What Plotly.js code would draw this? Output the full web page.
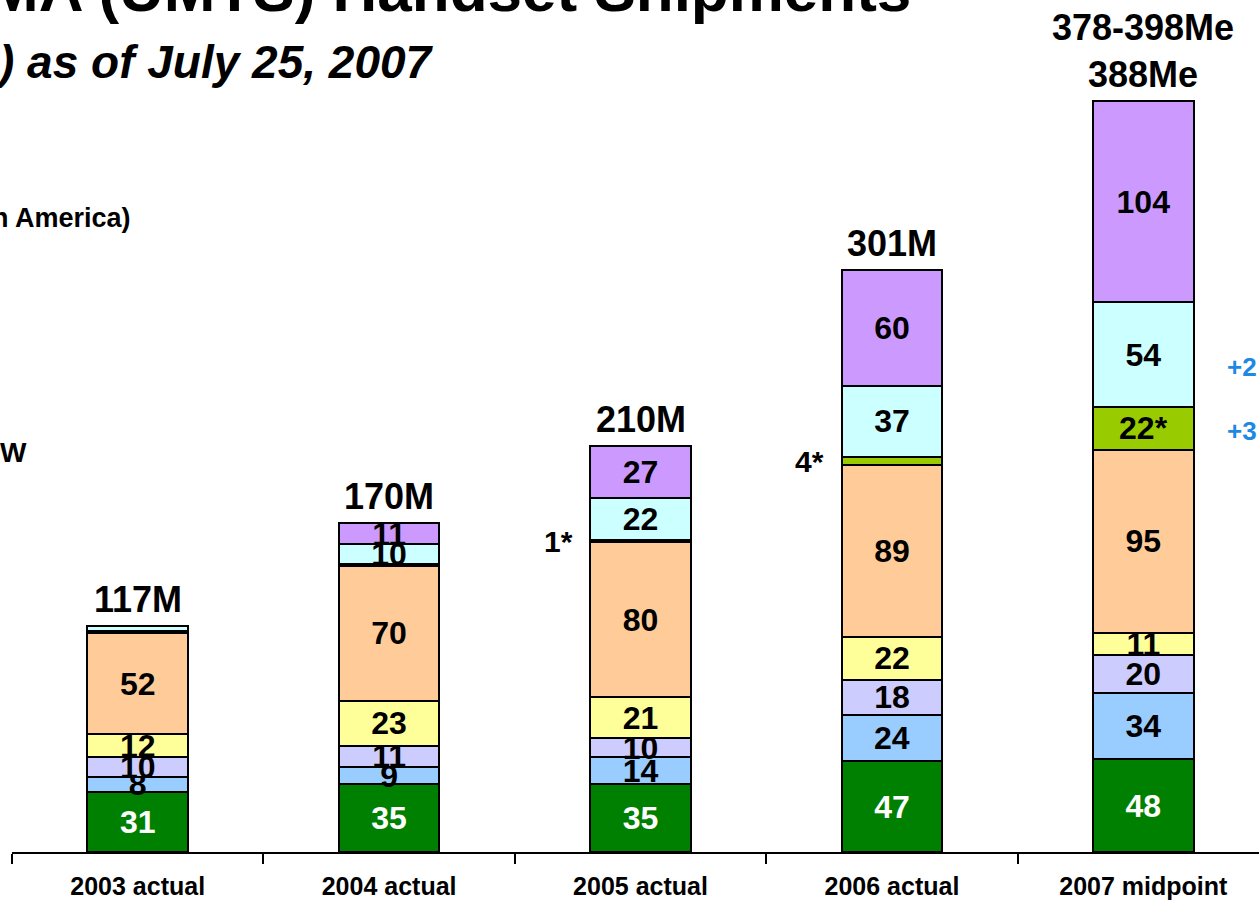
<!DOCTYPE html>
<html>
<head>
<meta charset="utf-8">
<script src="https://cdn.plot.ly/plotly-3.0.1.min.js"></script>
<style>html,body{margin:0;padding:0;background:#fff;}#chart{width:1259px;height:903px;}</style>
</head>
<body>
<div id="chart"></div>
<script>
// ---- data ----
const categories = ["2003 actual", "2004 actual", "2005 actual", "2006 actual", "2007 midpoint"];
const seriesNames = ["S1", "S2", "S3", "S4", "S5", "S6", "S7", "S8"];
const green      = [31, 35, 35, 47, 48];
const lightBlue  = [8, 9, 14, 24, 34];
const lavender   = [10, 11, 10, 18, 20];
const yellow     = [12, 23, 21, 22, 11];
const peach      = [52, 70, 80, 89, 95];
const yellowGreen= [1, 1, 1, 4, 22];
const cyan       = [3, 10, 22, 37, 54];
const purple     = [0, 11, 27, 60, 104];
const greenLabels      = ["31", "35", "35", "47", "48"];
const lightBlueLabels  = ["8", "9", "14", "24", "34"];
const lavenderLabels   = ["10", "11", "10", "18", "20"];
const yellowLabels     = ["12", "23", "21", "22", "11"];
const peachLabels      = ["52", "70", "80", "89", "95"];
const yellowGreenLabels= ["", "", "", "", "22*"];
const cyanLabels       = ["", "10", "22", "37", "54"];
const purpleLabels     = ["", "11", "27", "60", "104"];
const totalLabels = ["117M", "170M", "210M", "301M", "378-398Me<br>388Me"];
const sideNotes = [{cat: 2, text: "1*"}, {cat: 3, text: "4*"}];
const growthNotes = ["+2", "+3"];

const FONT = "Liberation Sans, Arial, sans-serif";
const series = [
  {v: green, t: greenLabels, c: "#008000", fc: "#ffffff"},
  {v: lightBlue, t: lightBlueLabels, c: "#99CCFF", fc: "#000"},
  {v: lavender, t: lavenderLabels, c: "#CCCCFF", fc: "#000"},
  {v: yellow, t: yellowLabels, c: "#FFFF99", fc: "#000"},
  {v: peach, t: peachLabels, c: "#FFCC99", fc: "#000"},
  {v: yellowGreen, t: yellowGreenLabels, c: "#99CC00", fc: "#000"},
  {v: cyan, t: cyanLabels, c: "#CCFFFF", fc: "#000"},
  {v: purple, t: purpleLabels, c: "#CC99FF", fc: "#000"}
];

const traces = series.map((s, i) => ({
  type: "bar",
  name: seriesNames[i],
  x: categories,
  y: s.v,
  text: s.t,
  textposition: "inside",
  insidetextanchor: "middle",
  constraintext: "none",
  textangle: 0,
  textfont: {family: FONT, size: 32, color: s.fc, weight: "bold"},
  marker: {color: s.c, line: {color: "#000", width: 2}},
  width: 0.4,
  hoverinfo: "none"
}));

const totals = categories.map((_, k) => series.reduce((a, s) => a + s.v[k], 0));
const annotations = [];
totals.forEach((t, k) => {
  annotations.push({x: categories[k], y: t, xref: "x", yref: "y", text: "<b>" + totalLabels[k] + "</b>",
    showarrow: false, yanchor: "bottom", yshift: 4, font: {family: FONT, size: 36, color: "#000"}});
});
sideNotes.forEach(n => {
  const k = n.cat;
  const mid = green[k] + lightBlue[k] + lavender[k] + yellow[k] + peach[k] + yellowGreen[k] / 2;
  annotations.push({x: categories[k], y: mid, xref: "x", yref: "y", text: "<b>" + n.text + "</b>",
    showarrow: false, xshift: -82, font: {family: FONT, size: 30, color: "#000"}});
});
// growth notes next to 2007 bar
{
  const k = 4;
  const base = green[k] + lightBlue[k] + lavender[k] + yellow[k] + peach[k];
  annotations.push({x: categories[k], y: base + yellowGreen[k] + cyan[k] / 2, xref: "x", yref: "y",
    text: "<b>" + growthNotes[0] + "</b>", showarrow: false, xanchor: "left", xshift: 82, yshift: -12,
    font: {family: FONT, size: 26, color: "#1E88E5"}});
  annotations.push({x: categories[k], y: base + yellowGreen[k] / 2, xref: "x", yref: "y",
    text: "<b>" + growthNotes[1] + "</b>", showarrow: false, xanchor: "left", xshift: 82, yshift: -3,
    font: {family: FONT, size: 26, color: "#1E88E5"}});
}
// page texts (partially cropped in the reference)
annotations.push({xref: "paper", yref: "paper", x: 910/1259, y: 1, xanchor: "right", yanchor: "bottom",
  yshift: -26, text: "<b>WCDMA (UMTS) Handset Shipments</b>", showarrow: false,
  font: {family: FONT, size: 62, color: "#000"}});
annotations.push({xref: "paper", yref: "paper", x: 0, y: 1, xanchor: "left", yanchor: "middle",
  xshift: -20, yshift: -62, text: "<b><i>) as of July 25, 2007</i></b>", showarrow: false,
  font: {family: FONT, size: 46, color: "#000"}});
annotations.push({xref: "paper", yref: "paper", x: 0, y: 1, xanchor: "left", yanchor: "middle",
  xshift: -22, yshift: -218, text: "<b>n America)</b>", showarrow: false,
  font: {family: FONT, size: 27, color: "#000"}});
annotations.push({xref: "paper", yref: "paper", x: 0, y: 1, xanchor: "left", yanchor: "middle",
  xshift: -14, yshift: -452, text: "<b>W</b>", showarrow: false,
  font: {family: FONT, size: 28, color: "#000"}});

const layout = {
  width: 1259, height: 903,
  margin: {l: 12, r: 0, t: 0, b: 51},
  paper_bgcolor: "#fff", plot_bgcolor: "#fff",
  barmode: "stack",
  showlegend: false,
  xaxis: {
    type: "category", range: [-0.5, 4.46], fixedrange: true,
    showline: true, linecolor: "#000", linewidth: 2,
    ticks: "outside", tickson: "boundaries", ticklen: 10, tickwidth: 2, tickcolor: "#000",
    ticklabelstandoff: 11,
    tickfont: {family: FONT, size: 25, color: "#000", weight: "bold"},
    showgrid: false, zeroline: false
  },
  yaxis: {
    range: [0, 440.3], visible: false, showgrid: false, zeroline: false, fixedrange: true
  },
  annotations: annotations
};

Plotly.newPlot("chart", traces, layout, {displayModeBar: false, staticPlot: true});
</script>
</body>
</html>
